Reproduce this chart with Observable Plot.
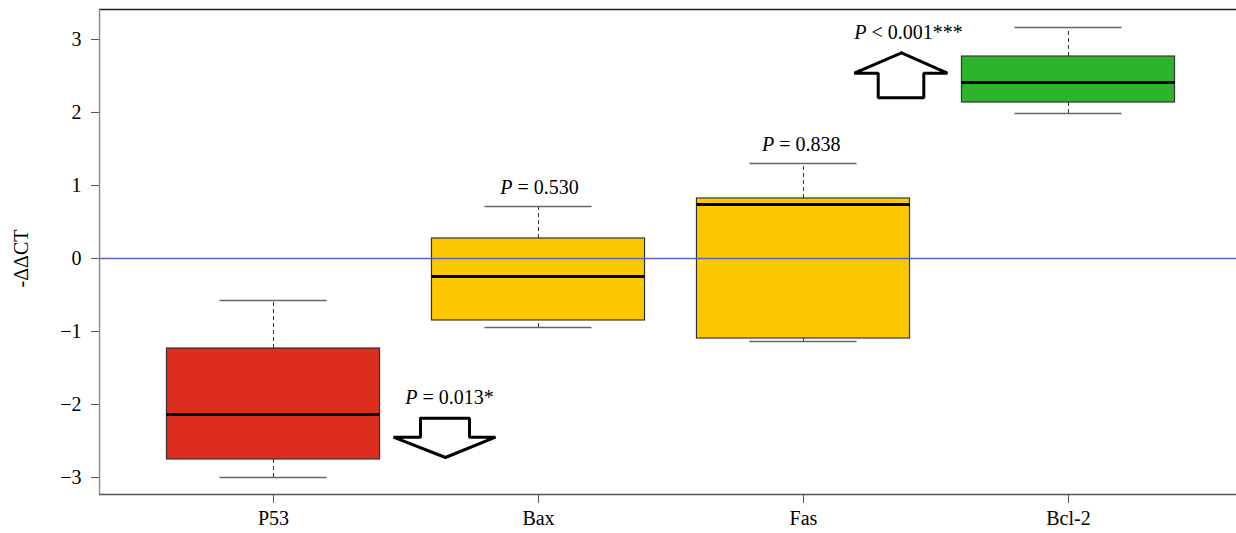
<!DOCTYPE html>
<html><head><meta charset="utf-8">
<script src="https://cdn.jsdelivr.net/npm/d3@7"></script>
<script src="https://cdn.jsdelivr.net/npm/@observablehq/plot@0.6"></script>
<style>html,body{margin:0;background:#fff;overflow:hidden}svg{display:block}</style>
</head><body><div id="chart"></div>
<script>
// ---- data ----
const genes = ["P53", "Bax", "Fas", "Bcl-2"];
const whiskerLow  = [-3.00, -0.945, -1.137, 1.986];
const q1          = [-2.753, -0.849, -1.096, 2.137];
const median      = [-2.137, -0.247, 0.740, 2.411];
const q3          = [-1.233, 0.274, 0.822, 2.767];
const whiskerHigh = [-0.575, 0.712, 1.300, 3.164];
const boxColors   = ["#dc2d1f", "#fcc800", "#fcc800", "#2cb52c"];
const pLabels     = ["P = 0.013*", "P = 0.530", "P = 0.838", "P < 0.001***"];
const yTicks      = [-3, -2, -1, 0, 1, 2, 3];

// ---- layout (annotation placement, in axis units) ----
const labelPos = [[1.664, -2.0], [2.004, 0.89], [2.992, 1.479], [3.396, 3.01]];
const arrows = [
  {id: "down", pts: [[1.5547,-2.188],[1.7396,-2.188],[1.7396,-2.448],[1.8377,-2.448],[1.649,-2.726],[1.4528,-2.448],[1.5547,-2.448],[1.5547,-2.188]]},
  {id: "up", pts: [[3.370,2.818],[3.543,2.538],[3.454,2.538],[3.454,2.201],[3.282,2.201],[3.282,2.538],[3.192,2.538],[3.370,2.818]]}
];
const boxHalf = 0.402, capHalf = 0.202;
const xDomain = [0.3434, 4.634], yDomain = [-3.233, 3.411];

const rows = genes.map((g, i) => ({
  gene: g, pos: i + 1, lo: whiskerLow[i], q1: q1[i], med: median[i],
  q3: q3[i], hi: whiskerHigh[i], color: boxColors[i]
}));
const labels = pLabels.map((t, i) => ({text: t, x: labelPos[i][0], y: labelPos[i][1]}));
const arrowPts = arrows.flatMap(a => a.pts.map(([x, y]) => ({id: a.id, x, y})));

const chart = Plot.plot({
  width: 1236, height: 533,
  marginLeft: 99, marginRight: 0, marginTop: 9, marginBottom: 39,
  style: {fontFamily: "'Liberation Serif', 'DejaVu Serif', serif", fontSize: "20px", color: "#000", background: "#fff"},
  x: {domain: xDomain},
  y: {domain: yDomain},
  marks: [
    Plot.axisY({ticks: yTicks, tickFormat: d => d < 0 ? "\u2212" + Math.abs(d) : String(d), tickSize: 8, tickPadding: 10, label: null, stroke: "#555"}),
    Plot.axisX({ticks: [1, 2, 3, 4], tickFormat: d => genes[d - 1], tickSize: 9, tickPadding: 7, label: null, stroke: "#555"}),
    Plot.text([0], {y: d => d, text: () => "-ΔΔCT", frameAnchor: "left", dx: -78, rotate: -90, textAnchor: "middle", lineAnchor: "middle"}),
    // frame lines
    Plot.ruleY([yDomain[1]], {stroke: "#222", strokeWidth: 1.4}),
    Plot.ruleY([yDomain[0]], {stroke: "#555", strokeWidth: 1.4}),
    Plot.ruleX([xDomain[0]], {stroke: "#888", strokeWidth: 1.4}),
    // whiskers
    Plot.ruleX(rows, {x: "pos", y1: "q3", y2: "hi", stroke: "#333", strokeDasharray: "4,3"}),
    Plot.ruleX(rows, {x: "pos", y1: "lo", y2: "q1", stroke: "#333", strokeDasharray: "4,3"}),
    Plot.ruleY(rows, {y: "hi", x1: d => d.pos - capHalf, x2: d => d.pos + capHalf, stroke: "#666", strokeWidth: 1.5}),
    Plot.ruleY(rows, {y: "lo", x1: d => d.pos - capHalf, x2: d => d.pos + capHalf, stroke: "#666", strokeWidth: 1.5}),
    // boxes
    Plot.rect(rows, {x1: d => d.pos - boxHalf, x2: d => d.pos + boxHalf, y1: "q1", y2: "q3", fill: "color", stroke: "#333", strokeWidth: 1.2}),
    Plot.ruleY(rows, {y: "med", x1: d => d.pos - boxHalf, x2: d => d.pos + boxHalf, stroke: "#000", strokeWidth: 3}),
    // zero line
    Plot.ruleY([0], {stroke: "#5b62c4", strokeWidth: 1.3}),
    // arrows
    Plot.line(arrowPts, {x: "x", y: "y", z: "id", stroke: "#000", strokeWidth: 3, strokeLinejoin: "miter", curve: "linear"}),
    // p-value labels
    Plot.text(labels, {x: "x", y: "y", text: "text", textAnchor: "middle", lineAnchor: "bottom", fill: "#000"})
  ]
});

// italic P in p-value labels
chart.querySelectorAll("text").forEach(t => {
  const s = t.textContent;
  if (/^P [=<]/.test(s) && t.children.length === 0) {
    t.textContent = "";
    const ns = "http://www.w3.org/2000/svg";
    const a = document.createElementNS(ns, "tspan");
    a.setAttribute("font-style", "italic");
    a.textContent = "P";
    const b = document.createElementNS(ns, "tspan");
    b.textContent = s.slice(1);
    t.append(a, b);
  }
});
document.getElementById("chart").append(chart);
</script>
</body></html>
